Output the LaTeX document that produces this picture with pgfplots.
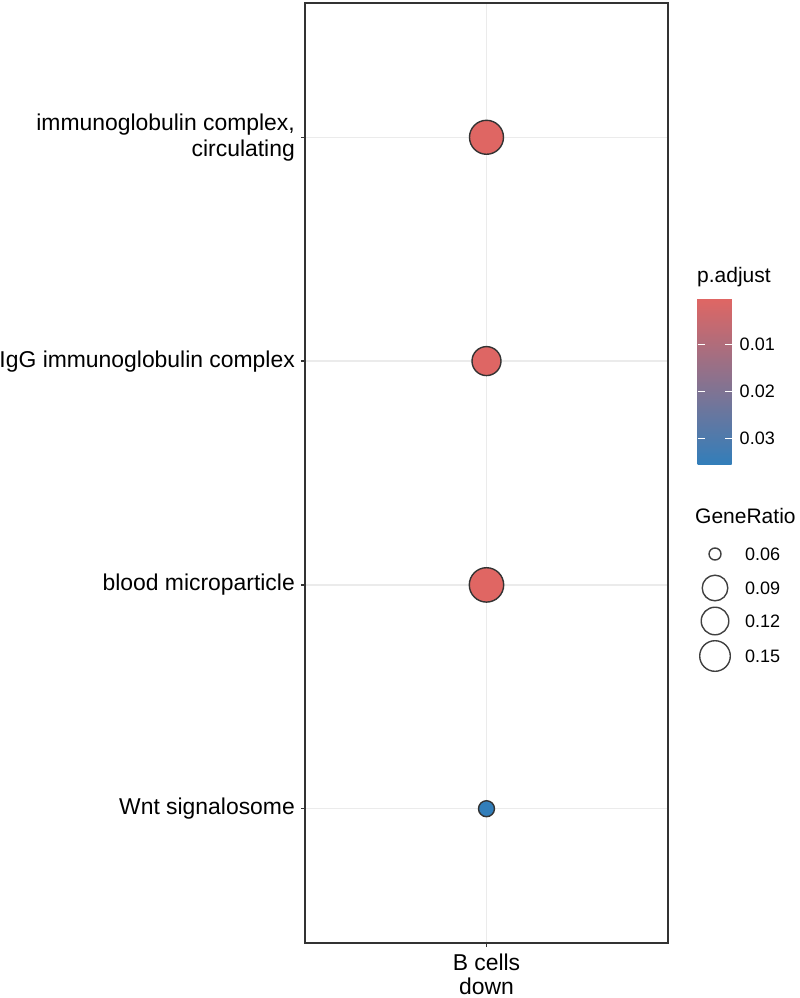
\documentclass[border=0pt]{standalone}
\usepackage{fontspec}
\setmainfont{Liberation Sans}
\usepackage{pgfplots}
\pgfplotsset{compat=1.18}
\usepackage{pgfplotstable}
\definecolor{pred}{RGB}{224,102,99}
\definecolor{pblue}{RGB}{50,126,186}
\definecolor{gridc}{RGB}{235,235,235}
\definecolor{framec}{RGB}{51,51,51}

% y: category position (1 = bottom), GR: GeneRatio, p: p.adjust, r: drawn radius (pt)
\pgfplotstableread{
y GR p r
4 0.167 0.0002 17.0
3 0.125 0.0004 14.5
2 0.171 0.0001 17.2
1 0.063 0.0357 8.0
}\dotdata

% size legend (pixel coordinates of the reference)
\pgfplotstableread{
x y GR r
715 554 0.06 6.0
715 588 0.09 12.8
715 621 0.12 13.8
715 656 0.15 15.3
}\sizedata

\begin{document}
\begin{tikzpicture}
\useasboundingbox (-305pt,-55pt) rectangle (495pt,943pt);
\begin{axis}[
  at={(0pt,0pt)}, anchor=south west,
  scale only axis, width=363pt, height=940pt,
  xmin=0, xmax=2, ymin=0.4, ymax=4.6,
  xtick={1}, xticklabels={{B cells\\down}},
  ytick={1,2,3,4},
  yticklabels={{Wnt signalosome},{blood microparticle},{IgG immunoglobulin complex},{immunoglobulin complex,\\circulating}},
  yticklabel style={align=right, font=\fontsize{22.9}{26}\selectfont, inner sep=0pt, xshift=-6pt},
  xticklabel style={align=center, font=\fontsize{22.9}{23.5}\selectfont, inner sep=0pt, yshift=-7pt},
  grid=major,
  major grid style={gridc, line width=1.4pt},
  axis line style={framec, line width=1.3pt},
  tick style={framec, line width=1.3pt},
  major tick length=4pt, tick align=outside, tick pos=left,
  colormap={pa}{rgb255=(224,102,99) rgb255=(50,126,186)},
  point meta min=0, point meta max=0.0357,
  colorbar,
  colorbar/width=34pt,
  colorbar style={
    at={(384pt,645pt)}, anchor=north west,
    scale only axis, width=34pt, height=167pt,
    y dir=reverse,
    ytick={0.01,0.02,0.03}, scaled y ticks=false,
    axis line style={draw=none},
    major tick length=7pt, tick align=inside,
    yticklabel pos=right, ytick pos=both,
    ytick style={white, line width=1.3pt},
    yticklabel style={font=\fontsize{18}{18}\selectfont, inner sep=0pt, xshift=8pt,
      /pgf/number format/.cd, fixed, fixed zerofill, precision=2, assume math mode=true},
  },
  clip=false,
]
\addplot[scatter, only marks, mark=*,
  point meta=\thisrow{p},
  scatter/use mapped color={draw=black!80, fill=mapped color},
  visualization depends on={\thisrow{r}\as\rad},
  scatter/@pre marker code/.append style={/tikz/mark size=\rad pt},
  mark options={line width=1.4pt}]
  table[x expr=1, y=y] {\dotdata};
\end{axis}

\begin{axis}[
  at={(-305pt,-55pt)}, anchor=south west,
  scale only axis, width=800pt, height=998pt,
  xmin=0, xmax=800, ymin=0, ymax=998, y dir=reverse,
  hide axis, clip=false,
]
\addplot[scatter, only marks, mark=*,
  point meta=\thisrow{GR},
  scatter/use mapped color={draw=black!75, fill=white},
  visualization depends on={\thisrow{r}\as\rad},
  scatter/@pre marker code/.append style={/tikz/mark size=\rad pt},
  mark options={line width=1.4pt}]
  table[x=x, y=y] {\sizedata};
\node[anchor=base west, font=\fontsize{21}{21}\selectfont, inner sep=0pt] at (axis cs:697,283) {p.adjust};
\node[anchor=base west, font=\fontsize{21}{21}\selectfont, inner sep=0pt] at (axis cs:695,523) {GeneRatio};
\node[anchor=west, font=\fontsize{18}{18}\selectfont, inner sep=0pt] at (axis cs:745,554) {0.06};
\node[anchor=west, font=\fontsize{18}{18}\selectfont, inner sep=0pt] at (axis cs:745,588) {0.09};
\node[anchor=west, font=\fontsize{18}{18}\selectfont, inner sep=0pt] at (axis cs:745,621) {0.12};
\node[anchor=west, font=\fontsize{18}{18}\selectfont, inner sep=0pt] at (axis cs:745,656) {0.15};
\end{axis}
\end{tikzpicture}
\end{document}
